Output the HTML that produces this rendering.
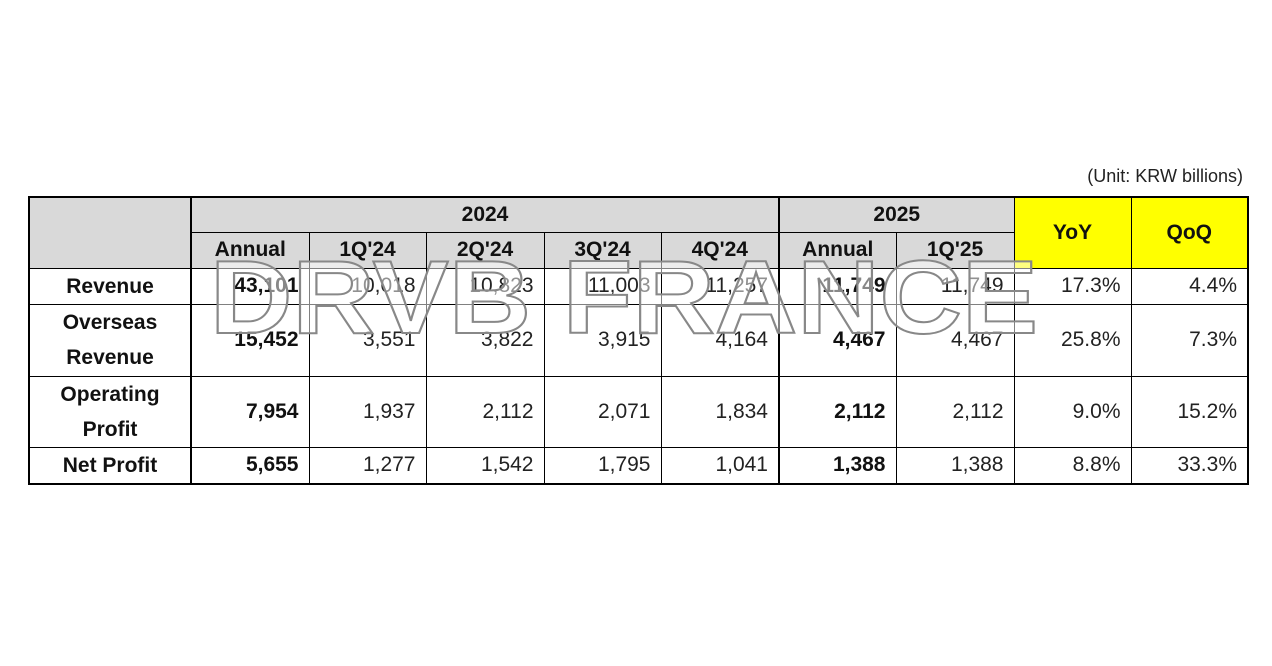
<!DOCTYPE html>
<html><head><meta charset="utf-8"><style>
body{margin:0;width:1272px;height:666px;background:#fff;overflow:hidden;position:relative;font-family:"Liberation Sans","DejaVu Sans",sans-serif;}
table{position:absolute;left:28px;top:196px;border-collapse:collapse;border:2.5px solid #000;table-layout:fixed;}
td{border:1px solid #000;font-size:21px;color:#222;padding:0 10px 0 0;text-align:right;white-space:nowrap;line-height:24px;}
.h{background:#d9d9d9;font-weight:bold;text-align:center;padding:0;color:#111;}
.y{background:#ffff00;font-weight:bold;text-align:center;padding:0;color:#111;}
.l{font-weight:bold;text-align:center;padding:0;color:#111;line-height:35px;}
.b{font-weight:bold;color:#111;}
.tl{border-left:2px solid #000;}
.unit{position:absolute;right:29px;top:166px;font-size:18px;color:#222;}
svg{position:absolute;left:0;top:0;}
</style></head><body>
<div class="unit">(Unit: KRW billions)</div>
<table>
<colgroup><col style="width:162px"><col style="width:118px"><col style="width:117px"><col style="width:118px"><col style="width:117px"><col style="width:118px"><col style="width:117px"><col style="width:118px"><col style="width:117px"><col style="width:117px"></colgroup>
<tr style="height:35px"><td class="h" rowspan="2"></td><td class="h tl" colspan="5">2024</td><td class="h tl" colspan="2">2025</td><td class="y" rowspan="2">YoY</td><td class="y" rowspan="2">QoQ</td></tr>
<tr style="height:36px"><td class="h tl">Annual</td><td class="h">1Q'24</td><td class="h">2Q'24</td><td class="h">3Q'24</td><td class="h">4Q'24</td><td class="h tl">Annual</td><td class="h">1Q'25</td></tr>
<tr style="height:35px"><td class="l">Revenue</td><td class="b tl">43,101</td><td>10,018</td><td>10,823</td><td>11,003</td><td>11,257</td><td class="b tl">11,749</td><td>11,749</td><td>17.3%</td><td>4.4%</td></tr>
<tr style="height:72px"><td class="l">Overseas<br>Revenue</td><td class="b tl">15,452</td><td>3,551</td><td>3,822</td><td>3,915</td><td>4,164</td><td class="b tl">4,467</td><td>4,467</td><td>25.8%</td><td>7.3%</td></tr>
<tr style="height:71px"><td class="l">Operating<br>Profit</td><td class="b tl">7,954</td><td>1,937</td><td>2,112</td><td>2,071</td><td>1,834</td><td class="b tl">2,112</td><td>2,112</td><td>9.0%</td><td>15.2%</td></tr>
<tr style="height:35px"><td class="l">Net Profit</td><td class="b tl">5,655</td><td>1,277</td><td>1,542</td><td>1,795</td><td>1,041</td><td class="b tl">1,388</td><td>1,388</td><td>8.8%</td><td>33.3%</td></tr>
</table>
<svg width="1272" height="666"><text x="210" y="333" font-family="Liberation Sans, sans-serif" font-weight="bold" font-size="104" textLength="828" lengthAdjust="spacingAndGlyphs" fill="rgba(255,255,255,0.5)" stroke="#888" stroke-width="2">DRVB FRANCE</text></svg>
</body></html>
